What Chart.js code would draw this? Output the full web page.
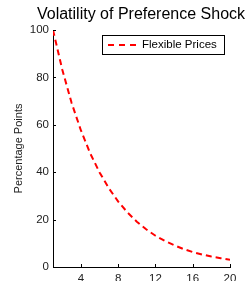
<!DOCTYPE html>
<html>
<head>
<meta charset="utf-8">
<script src="https://cdn.jsdelivr.net/npm/chart.js@4"></script>
<style>
  html, body { margin: 0; padding: 0; background: #fff; }
  #wrap { width: 249px; height: 281px; }
</style>
</head>
<body>
<div id="wrap"><canvas id="chart" width="249" height="281"></canvas></div>
<script>
// Dados
const periods = [1, 2, 3, 4, 5, 6, 7, 8, 9, 10, 11, 12, 13, 14, 15, 16, 17, 18, 19, 20];
const flexiblePrices = [100, 83.2, 69.2, 57.6, 47.9, 39.9, 33.2, 27.6, 23.0, 19.1,
    15.9, 13.2, 11.0, 9.2, 7.6, 6.3, 5.3, 4.4, 3.7, 3.0];
const xTicks = [4, 8, 12, 16, 20];
const yTicks = [0, 20, 40, 60, 80, 100];

const titleText = "Volatility of Preference Shock";
const yLabel = "Percentage Points";
const font = "'Liberation Sans', Arial, sans-serif";

// Título, marcas internas e legenda desenhados à mão
const extras = {
    id: "extras",
    afterDraw(chart) {
        const ctx = chart.ctx, area = chart.chartArea;
        const xs = chart.scales.x, ys = chart.scales.y;
        ctx.save();
        ctx.fillStyle = "#000";
        ctx.font = "16px " + font;
        ctx.textAlign = "center";
        ctx.textBaseline = "alphabetic";
        ctx.fillText(titleText, 141, 19);

        ctx.strokeStyle = "#000";
        ctx.lineWidth = 1;
        ctx.beginPath();
        xTicks.forEach(v => {
            const px = Math.round(xs.getPixelForValue(v)) + 0.5;
            ctx.moveTo(px, area.bottom);
            ctx.lineTo(px, area.bottom - 3);
        });
        yTicks.forEach(v => {
            const py = Math.round(ys.getPixelForValue(v)) + 0.5;
            ctx.moveTo(area.left, py);
            ctx.lineTo(area.left + 3, py);
        });
        ctx.stroke();

        // legenda
        ctx.fillStyle = "#fff";
        ctx.fillRect(102.5, 35.5, 122, 19);
        ctx.strokeRect(102.5, 35.5, 122, 19);
        ctx.strokeStyle = "#ff0000";
        ctx.lineWidth = 2;
        ctx.setLineDash([6, 5]);
        ctx.beginPath();
        ctx.moveTo(108, 45);
        ctx.lineTo(140, 45);
        ctx.stroke();
        ctx.setLineDash([]);
        ctx.fillStyle = "#000";
        ctx.font = "11.5px " + font;
        ctx.textAlign = "left";
        ctx.textBaseline = "middle";
        ctx.fillText(chart.data.datasets[0].label, 142, 45);
        ctx.restore();
    }
};

new Chart(document.getElementById("chart"), {
    type: "line",
    plugins: [extras],
    data: {
        labels: periods,
        datasets: [{
            label: "Flexible Prices",
            data: periods.map((p, i) => ({ x: p, y: flexiblePrices[i] })),
            borderColor: "#ff0000",
            borderWidth: 2,
            borderDash: [6, 4],
            pointRadius: 0,
            tension: 0,
            fill: false,
        }],
    },
    options: {
        responsive: false,
        animation: false,
        layout: { padding: { left: 12, top: 30, right: 19, bottom: 0 } },
        plugins: {
            legend: { display: false },
            title: { display: false },
            tooltip: { enabled: false },
        },
        scales: {
            x: {
                type: "linear",
                min: 1,
                max: 20,
                afterBuildTicks: (s) => { s.ticks = xTicks.map(v => ({ value: v })); },
                afterFit: (s) => { s.height = 14; },
                grid: { display: false, drawTicks: false },
                border: { display: true, color: "#000", width: 1 },
                ticks: { color: "#222", font: { family: font, size: 11.5 }, padding: 5, maxRotation: 0 },
            },
            y: {
                min: 0,
                max: 100,
                afterBuildTicks: (s) => { s.ticks = yTicks.map(v => ({ value: v })); },
                afterFit: (s) => { s.width = 41; },
                grid: { display: false, drawTicks: false },
                border: { display: true, color: "#000", width: 1 },
                ticks: { color: "#222", font: { family: font, size: 11.5 }, padding: 4 },
                title: {
                    display: true,
                    text: yLabel,
                    color: "#222",
                    font: { family: font, size: 11 },
                    padding: { top: 0, bottom: 0 },
                },
            },
        },
    },
});
</script>
</body>
</html>
